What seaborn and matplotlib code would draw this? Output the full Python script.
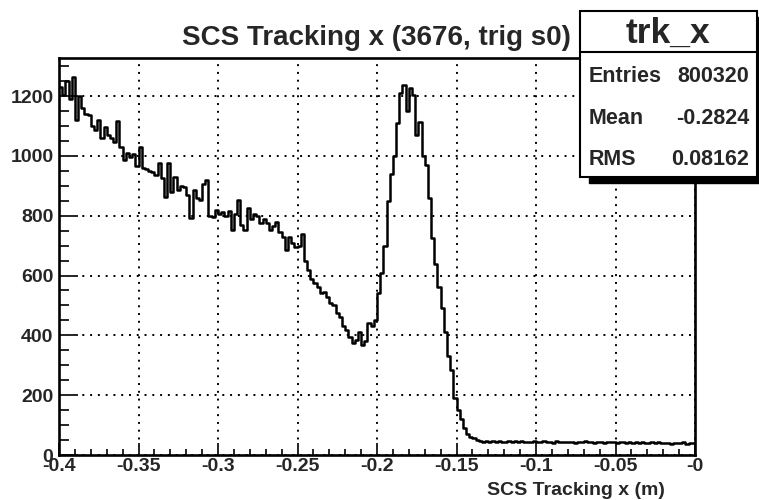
import matplotlib

matplotlib.use("Agg")

import matplotlib.pyplot as plt
import numpy as np
import pandas as pd
import seaborn as sns
from matplotlib.patches import Rectangle
from matplotlib.ticker import FixedLocator, MultipleLocator

# trk_x histogram, 200 bins of 2 mm from -0.4 to 0 m
x_lo = -0.4
x_hi = 0.0
counts = [
    1230, 1205, 1250, 1190, 1264, 1120, 1200, 1160, 1140, 1135,
    1100, 1085, 1120, 1060, 1095, 1070, 1060, 1045, 1115, 1030,
    985, 1010, 995, 1005, 965, 1030, 960, 955, 950, 945,
    935, 975, 925, 862, 975, 880, 930, 886, 900, 896,
    870, 792, 885, 860, 852, 905, 919, 800, 796, 820,
    805, 812, 800, 815, 752, 805, 852, 770, 752, 825,
    790, 805, 800, 775, 790, 776, 752, 766, 780, 745,
    730, 685, 729, 710, 695, 700, 740, 650, 618, 590,
    575, 560, 541, 545, 528, 508, 500, 475, 460, 430,
    418, 395, 374, 385, 411, 368, 380, 441, 430, 451,
    540, 610, 700, 850, 940, 1000, 1110, 1210, 1237, 1150,
    1226, 1203, 1069, 1114, 1000, 970, 860, 725, 640, 560,
    490, 412, 330, 284, 190, 150, 120, 89, 70, 60,
    56, 50, 48, 45, 47, 44, 46, 43, 48, 45,
    44, 47, 42, 46, 45, 48, 43, 45, 44, 46,
    42, 45, 47, 43, 44, 41, 46, 44, 42, 45,
    43, 44, 41, 45, 43, 46, 42, 44, 41, 43,
    42, 40, 44, 42, 43, 41, 42, 44, 40, 42,
    41, 43, 40, 42, 39, 41, 43, 40, 42, 39,
    41, 40, 38, 41, 39, 40, 42, 38, 40, 39,
]
x_ticks = [-0.4, -0.35, -0.3, -0.25, -0.2, -0.15, -0.1, -0.05, 0.0]
x_tick_labels = ["-0.4", "-0.35", "-0.3", "-0.25", "-0.2", "-0.15", "-0.1", "-0.05", "-0"]
y_ticks = [0, 200, 400, 600, 800, 1000, 1200]
y_tick_labels = ["0", "200", "400", "600", "800", "1000", "1200"]

title = "SCS Tracking x (3676, trig s0)"
x_label = "SCS Tracking x (m)"
stats_name = "trk_x"
stats_rows = [("Entries", "800320"), ("Mean", "-0.2824"), ("RMS", "0.08162")]

sns.set_style("white")
plt.rcParams["font.family"] = ["Liberation Sans", "DejaVu Sans"]
plt.rcParams["font.weight"] = "bold"

n_bins = len(counts)
edges = np.linspace(x_lo, x_hi, n_bins + 1)
hist_df = pd.DataFrame({"x": 0.5 * (edges[:-1] + edges[1:]), "count": counts})

W, H = 759, 500
fig = plt.figure(figsize=(W / 100, H / 100), dpi=100)
ax = fig.add_axes([59 / W, 45 / H, 636 / W, 397 / H])

sns.histplot(
    data=hist_df,
    x="x",
    weights="count",
    bins=n_bins,
    binrange=(x_lo, x_hi),
    element="step",
    fill=False,
    color="black",
    linewidth=1.8,
    ax=ax,
)

ax.set_xlim(x_lo, x_hi)
ax.set_ylim(0, 1.05 * max(counts))
ax.xaxis.set_major_locator(FixedLocator(x_ticks))
ax.set_xticklabels(x_tick_labels)
ax.xaxis.set_minor_locator(MultipleLocator(0.01))
ax.yaxis.set_major_locator(FixedLocator(y_ticks))
ax.set_yticklabels(y_tick_labels)
ax.yaxis.set_minor_locator(MultipleLocator(50))
ax.set_ylabel("")
ax.set_xlabel("")

ax.grid(True, which="major", color="black", linestyle=(0, (1, 3)), linewidth=1.4)
ax.set_axisbelow(True)
for side in ("top", "right", "left", "bottom"):
    ax.spines[side].set_linewidth(1.9)
    ax.spines[side].set_color("black")

ax.tick_params(axis="x", which="major", direction="in", length=8.6, width=1.4,
               labelsize=14, pad=2, top=False, bottom=True)
ax.tick_params(axis="x", which="minor", direction="in", length=4.3, width=1.4,
               top=False, bottom=True)
ax.tick_params(axis="y", which="major", direction="in", length=13.7, width=1.4,
               labelsize=14, pad=4, right=False, left=True)
ax.tick_params(axis="y", which="minor", direction="in", length=6.9, width=1.4,
               right=False, left=True)
for lab in ax.get_xticklabels() + ax.get_yticklabels():
    lab.set_fontweight("bold")

fig.text(665 / W, 1 - 495 / H, x_label, ha="right", va="baseline",
         fontsize=14, fontweight="bold")
fig.text(376 / W, 1 - 45 / H, title, ha="center", va="baseline",
         fontsize=20, fontweight="bold")

# stats box with shadow
bx0, bx1 = 580 / W, 757 / W
by0, by1 = 1 - 177 / H, 1 - 11 / H
fig.patches.append(Rectangle((bx0 + 9 / W, by0 - 6 / H), bx1 - bx0, by1 - by0,
                             transform=fig.transFigure, facecolor="black",
                             edgecolor="black", zorder=5))
fig.patches.append(Rectangle((bx0, by0), bx1 - bx0, by1 - by0,
                             transform=fig.transFigure, facecolor="white",
                             edgecolor="black", linewidth=1.5, zorder=6))
fig.add_artist(plt.Line2D([bx0, bx1], [1 - 52 / H, 1 - 52 / H],
                          transform=fig.transFigure, color="black", linewidth=1.5, zorder=7))
fig.text(668 / W, 1 - 43 / H, stats_name, ha="center", va="baseline",
         fontsize=25.5, fontweight="bold", zorder=8)
for i, (name, val) in enumerate(stats_rows):
    yy = 1 - (82 + 41.5 * i) / H
    fig.text(589 / W, yy, name, ha="left", va="baseline", fontsize=15.5,
             fontweight="bold", zorder=8)
    fig.text(749 / W, yy, val, ha="right", va="baseline", fontsize=15.5,
             fontweight="bold", zorder=8)

fig.savefig("out.png", dpi=100)
